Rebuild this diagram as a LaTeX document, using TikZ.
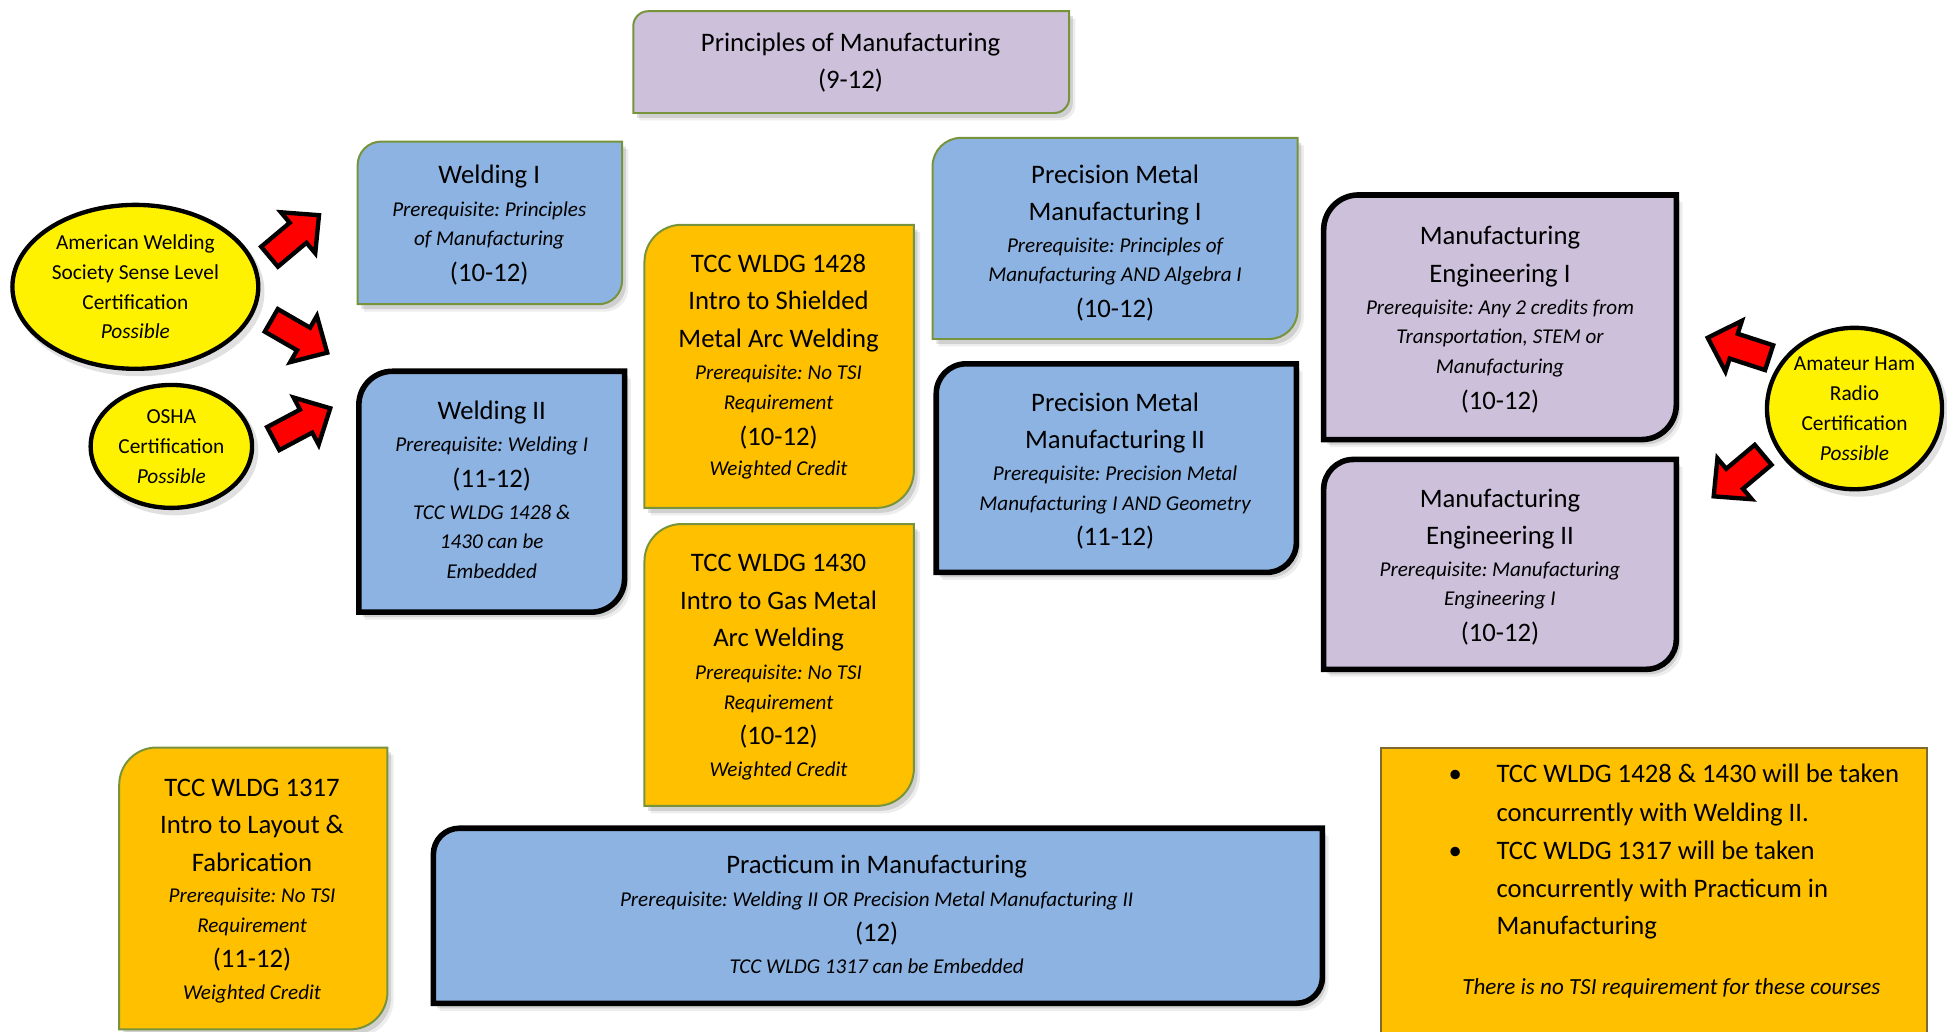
\documentclass[tikz,border=0pt]{standalone}
\usepackage{fontspec}
\setmainfont{Carlito}
\frenchspacing
\usetikzlibrary{shapes.geometric}
\definecolor{cblue}{HTML}{8DB3E2}
\definecolor{clav}{HTML}{CCC0DA}
\definecolor{corg}{HTML}{FFC000}
\definecolor{colive}{HTML}{77933C}
\definecolor{cnote}{HTML}{7F6A2E}
\tikzset{
  thinbd/.style={draw=colive, line width=1.6pt},
  thickbd/.style={draw=black, line width=4.5pt},
  big/.style={font=\fontsize{21.5}{26}\selectfont, inner sep=0pt, anchor=base, yshift=-6.5pt},
  bigl/.style={big, anchor=base west},
  sm/.style={font=\fontsize{17}{20}\selectfont\itshape, inner sep=0pt, anchor=base, yshift=-5pt},
  smn/.style={font=\fontsize{18.6}{22}\selectfont\itshape, inner sep=0pt, anchor=base, yshift=-5.5pt},
  ell/.style={ellipse, draw=black, line width=3.5pt, fill=yellow, inner sep=0pt, align=center,
    font=\fontsize{17.2}{24}\selectfont},
  arrowst/.style={draw=black, fill=red, line width=3.5pt, line join=miter},
  shadowa/.style={fill=black, opacity=0.12},
  shadowb/.style={fill=black, opacity=0.07}
}
\newcommand\dgbox[6]{%
  \begin{scope}[shift={(3,4)}]\fill[shadowa] (#2,#5) -- (#2,{#3+#6}) arc[start angle=180,end angle=270,radius=#6] -- (#4,#3) -- (#4,{#5-#6}) arc[start angle=0,end angle=90,radius=#6] -- cycle;\end{scope}
  \begin{scope}[shift={(5,6)}]\fill[shadowb] (#2,#5) -- (#2,{#3+#6}) arc[start angle=180,end angle=270,radius=#6] -- (#4,#3) -- (#4,{#5-#6}) arc[start angle=0,end angle=90,radius=#6] -- cycle;\end{scope}
  \draw[#1] (#2,#5) -- (#2,{#3+#6}) arc[start angle=180,end angle=270,radius=#6] -- (#4,#3) -- (#4,{#5-#6}) arc[start angle=0,end angle=90,radius=#6] -- cycle;
}
\newcommand\barrow[4]{%
  \begin{scope}[shift={(#2,#3)},rotate=#4]
    \draw[arrowst] (-26,-10.5) -- (4,-10.5) -- (4,-21.5) -- (26,0) -- (4,21.5) -- (4,10.5) -- (-26,10.5) -- cycle;
    \coordinate (#1) at (0,0);
  \end{scope}}
\begin{document}
\begin{tikzpicture}[x=1pt,y=-1pt]
\useasboundingbox (0,0) rectangle (1568,831);
% ---------- boxes ----------
\dgbox{fill=clav,thinbd}{510}{9}{861}{91}{12}
\dgbox{fill=cblue,thinbd}{288}{114}{501}{245}{19}
\dgbox{fill=cblue,thickbd}{289}{299}{503}{493}{27}
\dgbox{fill=corg,thinbd}{519}{181}{736}{409}{30}
\dgbox{fill=corg,thinbd}{519}{422}{736}{649}{30}
\dgbox{fill=cblue,thinbd}{751}{111}{1045}{273}{23}
\dgbox{fill=cblue,thickbd}{754}{293}{1044}{461}{24}
\dgbox{fill=clav,thickbd}{1066}{157}{1350}{354}{28}
\dgbox{fill=clav,thickbd}{1066}{370}{1350}{539}{24}
\dgbox{fill=corg,thinbd}{96}{602}{312}{829}{30}
\dgbox{fill=cblue,thickbd}{349}{667}{1065}{808}{21}
\draw[fill=corg, draw=cnote, line width=1.6pt] (1112,602) rectangle (1552,845);
% ---------- ellipses ----------
\fill[shadowa] (112,235) ellipse [x radius=101, y radius=68];
\fill[shadowa] (141,363) ellipse [x radius=67, y radius=52];
\fill[shadowa] (1497,333) ellipse [x radius=72, y radius=67];
\node[ell, minimum width=198pt, minimum height=132pt] (aws) at (109,231)
  {American Welding\\Society Sense Level\\Certification\\\textit{Possible}};
\node[ell, minimum width=130pt, minimum height=99pt] (osha) at (138,359.5)
  {OSHA\\Certification\\\textit{Possible}};
\node[ell, minimum width=141pt, minimum height=130pt] (ham) at (1493.5,329)
  {Amateur Ham\\Radio\\Certification\\\textit{Possible}};
% ---------- block arrows ----------
\barrow{a1}{237}{190}{40}
\barrow{a2}{241}{271}{-30}
\barrow{a3}{243}{341}{28}
\barrow{a4}{1400}{280}{162}
\barrow{a5}{1400}{383}{220}
% ---------- texts ----------
\node[big] (pm1) at (685,35) {Principles of Manufacturing};
\node[big] (pm2) at (685,65) {(9-12)};

\node[big] (w1a) at (394,141) {Welding I};
\node[sm]  (w1b) at (394,169) {Prerequisite: Principles};
\node[sm]  (w1c) at (394,193) {of Manufacturing};
\node[big] (w1d) at (394,220) {(10-12)};

\node[big] (w2a) at (396,331) {Welding II};
\node[sm]  (w2b) at (396,359) {Prerequisite: Welding I};
\node[big] (w2c) at (396,386) {(11-12)};
\node[sm]  (w2d) at (396,413) {TCC WLDG 1428 \&};
\node[sm]  (w2e) at (396,437) {1430 can be};
\node[sm]  (w2f) at (396,461) {Embedded};

\node[big] (t1a) at (627,213) {TCC WLDG 1428};
\node[big] (t1b) at (627,243) {Intro to Shielded};
\node[big] (t1c) at (627,273) {Metal Arc Welding};
\node[sm]  (t1d) at (627,301) {Prerequisite: No TSI};
\node[sm]  (t1e) at (627,325) {Requirement};
\node[big] (t1f) at (627,352) {(10-12)};
\node[sm]  (t1g) at (627,378) {Weighted Credit};

\node[big] (t2a) at (627,454) {TCC WLDG 1430};
\node[big] (t2b) at (627,484) {Intro to Gas Metal};
\node[big] (t2c) at (627,514) {Arc Welding};
\node[sm]  (t2d) at (627,542) {Prerequisite: No TSI};
\node[sm]  (t2e) at (627,566) {Requirement};
\node[big] (t2f) at (627,593) {(10-12)};
\node[sm]  (t2g) at (627,620) {Weighted Credit};

\node[big] (p1a) at (898,141) {Precision Metal};
\node[big] (p1b) at (898,171) {Manufacturing I};
\node[sm]  (p1c) at (898,198) {Prerequisite: Principles of};
\node[sm]  (p1d) at (898,222) {Manufacturing AND Algebra I};
\node[big] (p1e) at (898,249) {(10-12)};

\node[big] (p2a) at (898,325) {Precision Metal};
\node[big] (p2b) at (898,355) {Manufacturing II};
\node[sm]  (p2c) at (898,382) {Prerequisite: Precision Metal};
\node[sm]  (p2d) at (898,406) {Manufacturing I AND Geometry};
\node[big] (p2e) at (898,433) {(11-12)};

\node[big] (e1a) at (1208,190) {Manufacturing};
\node[big] (e1b) at (1208,221) {Engineering I};
\node[sm]  (e1c) at (1208,248) {Prerequisite: Any 2 credits from};
\node[sm]  (e1d) at (1208,272) {Transportation, STEM or};
\node[sm]  (e1e) at (1208,296) {Manufacturing};
\node[big] (e1f) at (1208,323) {(10-12)};

\node[big] (e2a) at (1208,402) {Manufacturing};
\node[big] (e2b) at (1208,432) {Engineering II};
\node[sm]  (e2c) at (1208,459) {Prerequisite: Manufacturing};
\node[sm]  (e2d) at (1208,483) {Engineering I};
\node[big] (e2e) at (1208,510) {(10-12)};

\node[big] (t3a) at (203,635) {TCC WLDG 1317};
\node[big] (t3b) at (203,665) {Intro to Layout \&};
\node[big] (t3c) at (203,695) {Fabrication};
\node[sm]  (t3d) at (203,722) {Prerequisite: No TSI};
\node[sm]  (t3e) at (203,746) {Requirement};
\node[big] (t3f) at (203,773) {(11-12)};
\node[sm]  (t3g) at (203,800) {Weighted Credit};

\node[big] (pra) at (706,697) {Practicum in Manufacturing};
\node[sm]  (prb) at (706,725) {Prerequisite: Welding II OR Precision Metal Manufacturing II};
\node[big] (prc) at (706,752) {(12)};
\node[sm]  (prd) at (706,779) {TCC WLDG 1317 can be Embedded};

\node[big]  (nb1) at (1172,624) {\textbullet};
\node[bigl] (n1a) at (1205,624) {TCC WLDG 1428 \& 1430 will be taken};
\node[bigl] (n1b) at (1205,655) {concurrently with Welding II.};
\node[big]  (nb2) at (1172,686) {\textbullet};
\node[bigl] (n2a) at (1205,686) {TCC WLDG 1317 will be taken};
\node[bigl] (n2b) at (1205,716) {concurrently with Practicum in};
\node[bigl] (n2c) at (1205,746) {Manufacturing};
\node[smn]  (n3)  at (1346,795) {There is no TSI requirement for these courses};
\end{tikzpicture}
\end{document}
